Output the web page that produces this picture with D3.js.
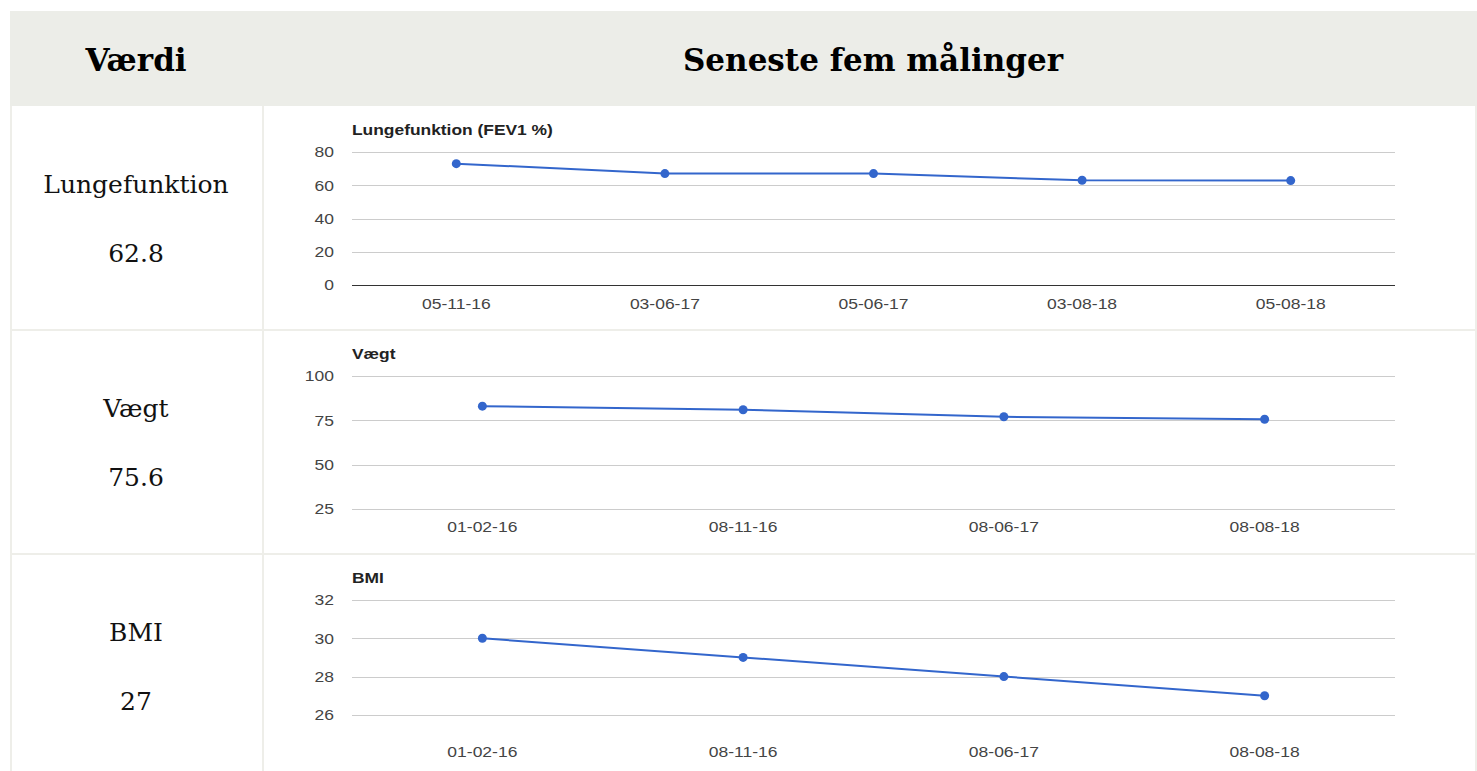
<!DOCTYPE html>
<html>
<head>
<meta charset="utf-8">
<script src="https://cdn.jsdelivr.net/npm/d3@7"></script>
<style>
  html, body { margin: 0; padding: 0; background: #fff; }
  svg { display: block; }
</style>
</head>
<body>
<svg id="page" width="1477" height="771"></svg>
<script>
// ---- Data ----
const headerLabels = ["Værdi", "Seneste fem målinger"];
const rowNames = ["Lungefunktion", "Vægt", "BMI"];
const rowCurrent = ["62.8", "75.6", "27"];

const lungTitle = "Lungefunktion (FEV1 %)";
const lungDates = ["05-11-16", "03-06-17", "05-06-17", "03-08-18", "05-08-18"];
const lungValues = [73, 67, 67, 63, 62.8];
const lungTicks = [0, 20, 40, 60, 80];

const weightTitle = "Vægt";
const weightDates = ["01-02-16", "08-11-16", "08-06-17", "08-08-18"];
const weightValues = [83, 81, 77, 75.6];
const weightTicks = [25, 50, 75, 100];

const bmiTitle = "BMI";
const bmiDates = ["01-02-16", "08-11-16", "08-06-17", "08-08-18"];
const bmiValues = [30, 29, 28, 27];
const bmiTicks = [26, 28, 30, 32];

// ---- Layout ----
const svg = d3.select("#page");
const tableLeft = 10, tableRight = 1477, colSplit = 263;
const headerTop = 11, headerBottom = 106;
const rowTops = [106, 330, 554];
const serif = "'DejaVu Serif', serif";
const sans = "'Liberation Sans', Arial, sans-serif";

svg.append("rect").attr("x", tableLeft).attr("y", headerTop)
  .attr("width", tableRight - tableLeft).attr("height", headerBottom - headerTop)
  .attr("fill", "#ecede8");

svg.append("text").attr("x", 136).attr("y", 71)
  .attr("text-anchor", "middle").attr("font-family", serif).attr("font-weight", "bold")
  .attr("font-size", 31).attr("fill", "#000").text(headerLabels[0]);
svg.append("text").attr("x", 873).attr("y", 71)
  .attr("text-anchor", "middle").attr("font-family", serif).attr("font-weight", "bold")
  .attr("font-size", 31).attr("fill", "#000").text(headerLabels[1]);

// borders
const borderColor = "#eeeee9";
[tableLeft + 1, colSplit, tableRight - 1].forEach(x => {
  svg.append("line").attr("x1", x).attr("x2", x).attr("y1", headerBottom).attr("y2", 771)
    .attr("stroke", borderColor).attr("stroke-width", 2);
});
[330, 554].forEach(y => {
  svg.append("line").attr("x1", tableLeft).attr("x2", tableRight).attr("y1", y).attr("y2", y)
    .attr("stroke", borderColor).attr("stroke-width", 2);
});

// left cells
rowNames.forEach((name, i) => {
  const top = rowTops[i];
  svg.append("text").attr("x", 136).attr("y", top + 87)
    .attr("text-anchor", "middle").attr("font-family", serif).attr("font-size", 25)
    .attr("fill", "#111").text(name);
  svg.append("text").attr("x", 136).attr("y", top + 156)
    .attr("text-anchor", "middle").attr("font-family", serif).attr("font-size", 25)
    .attr("fill", "#111").text(rowCurrent[i]);
});

// charts
const plotLeft = 352, plotRight = 1395;
const stretch = 1.13;
function drawChart(cfg) {
  const g = svg.append("g");
  const x = d3.scaleBand().domain(cfg.dates).range([plotLeft, plotRight]);
  const y = d3.scaleLinear().domain(cfg.domain).range([cfg.yBottom, cfg.yTop]);

  g.selectAll("line.grid").data(cfg.ticks).join("line")
    .attr("x1", plotLeft).attr("x2", plotRight)
    .attr("y1", d => Math.round(y(d)) + 0.5).attr("y2", d => Math.round(y(d)) + 0.5)
    .attr("stroke", d => (cfg.baseline !== undefined && d === cfg.baseline) ? "#333" : "#cccccc")
    .attr("stroke-width", 1);

  const yAxis = g.append("g").attr("transform", `translate(${plotLeft - 18},0)`)
    .call(d3.axisLeft(y).tickValues(cfg.ticks).tickFormat(d3.format("d")).tickSize(0).tickPadding(0));
  yAxis.select(".domain").remove();
  yAxis.selectAll("text").attr("font-family", sans).attr("font-size", 15.5).attr("fill", "#444")
    .attr("transform", `scale(${stretch},1)`);

  const xAxis = g.append("g").attr("transform", `translate(0,${cfg.xLabelY})`)
    .call(d3.axisBottom(x).tickSize(0).tickPadding(0));
  xAxis.select(".domain").remove();
  xAxis.selectAll("text").attr("font-family", sans).attr("font-size", 15.5).attr("fill", "#444")
    .attr("transform", `scale(${stretch},1)`);

  g.append("text").attr("transform", `translate(${plotLeft},${cfg.titleY}) scale(1.2,1)`)
    .attr("font-family", sans).attr("font-weight", "bold").attr("font-size", 14.5)
    .attr("fill", "#222").text(cfg.title);

  const pts = cfg.dates.map((d, i) => [x(d) + x.bandwidth() / 2, y(cfg.values[i])]);
  g.append("path").attr("d", d3.line()(pts)).attr("fill", "none")
    .attr("stroke", "#3366cc").attr("stroke-width", 2);
  g.selectAll("circle").data(pts).join("circle")
    .attr("cx", d => d[0]).attr("cy", d => d[1]).attr("r", 4.5).attr("fill", "#3366cc");
}

drawChart({ title: lungTitle, dates: lungDates, values: lungValues, ticks: lungTicks,
  domain: [0, 80], yBottom: 285, yTop: 152, xLabelY: 298, titleY: 135, baseline: 0 });
drawChart({ title: weightTitle, dates: weightDates, values: weightValues, ticks: weightTicks,
  domain: [25, 100], yBottom: 509, yTop: 376, xLabelY: 521, titleY: 359 });
drawChart({ title: bmiTitle, dates: bmiDates, values: bmiValues, ticks: bmiTicks,
  domain: [25, 32], yBottom: 734, yTop: 600, xLabelY: 746, titleY: 583 });
</script>
</body>
</html>
